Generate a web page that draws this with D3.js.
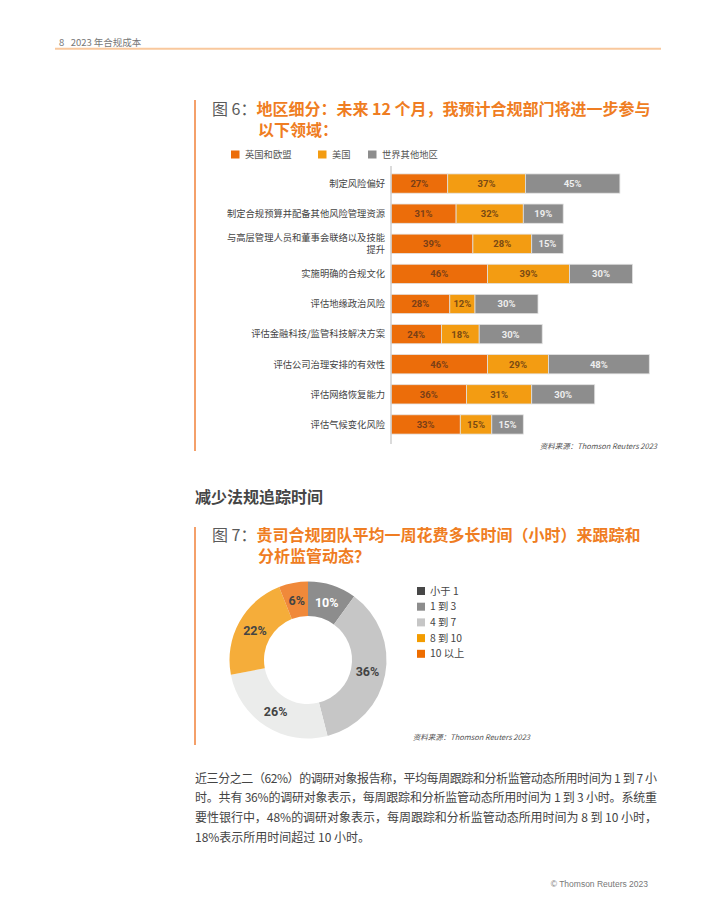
<!DOCTYPE html>
<html>
<head>
<meta charset="utf-8">
<script src="https://cdn.jsdelivr.net/npm/d3@7"></script>
<style>
  html, body { margin: 0; padding: 0; background: #fff; }
  svg { display: block; }
</style>
</head>
<body>
<svg id="page"></svg>
<script>
// figure 6 data
const categories = [
  '制定风险偏好',
  '制定合规预算并配备其他风险管理资源',
  '与高层管理人员和董事会联络以及技能\n提升',
  '实施明确的合规文化',
  '评估地缘政治风险',
  '评估金融科技/监管科技解决方案',
  '评估公司治理安排的有效性',
  '评估网络恢复能力',
  '评估气候变化风险'
]
const seriesNames = ['英国和欧盟', '美国', '世界其他地区']
const ukEu = [27, 31, 39, 46, 28, 24, 46, 36, 33]
const us = [37, 32, 28, 39, 12, 18, 29, 31, 15]
const rest = [45, 19, 15, 30, 30, 30, 48, 30, 15]

// figure 7 data
const hourBins = ['小于 1', '1 到 3', '4 到 7', '8 到 10', '10 以上']
const pieValues = [10, 36, 26, 22, 6]

const paragraph = [
  '近三分之二（62%）的调研对象报告称，平均每周跟踪和分析监管动态所用时间为 1 到 7 小',
  '时。共有 36%的调研对象表示，每周跟踪和分析监管动态所用时间为 1 到 3 小时。系统重',
  '要性银行中，48%的调研对象表示，每周跟踪和分析监管动态所用时间为 8 到 10 小时，',
  '18%表示所用时间超过 10 小时。'
]

const width = 710, height = 919
const cjk = '"Noto Sans CJK SC", "Noto Sans", sans-serif'
const num = 'Roboto, "Open Sans", sans-serif'
const orangeTitle = '#ef7d22'

const svg = d3.select('#page').attr('width', width).attr('height', height)
svg.append('rect').attr('width', width).attr('height', height).attr('fill', '#fff')

// page header
svg.append('text').attr('x', 59).attr('y', 46).style('white-space', 'pre')
  .style('font-family', cjk).style('font-size', '9.5px').attr('fill', '#777')
  .text('8   2023 年合规成本')
svg.append('line').attr('x1', 55).attr('x2', 661).attr('y1', 48.7).attr('y2', 48.7)
  .attr('stroke', '#f9c89d').attr('stroke-width', 2)

// ---------- figure 6 ----------
svg.append('line').attr('x1', 195).attr('x2', 195).attr('y1', 100).attr('y2', 451)
  .attr('stroke', '#f4a06a').attr('stroke-width', 2)

function title(y, lines, prefix) {
  const t = svg.append('text').attr('x', 212).attr('y', y)
    .style('font-family', cjk).style('font-size', '16px')
  t.append('tspan').attr('fill', '#5a5a5a').text(prefix)
  lines.forEach((l, i) => {
    const s = t.append('tspan').attr('fill', orangeTitle).style('font-weight', 700).text(l)
    if (i > 0) s.attr('x', 258).attr('dy', 21.5)
  })
}
title(114.5, ['地区细分：未来 12 个月，我预计合规部门将进一步参与', '以下领域：'], '图 6：')

const barColors = ['#ec6d0a', '#f39c12', '#8d8d8d']
const labelColors = ['#7a3f17', '#7a4a14', '#eeeeee']

// legend
const leg6 = svg.append('g').style('font-family', cjk).style('font-size', '9.3px')
const legX = [231, 318, 368]
seriesNames.forEach((s, i) => {
  leg6.append('rect').attr('x', legX[i]).attr('y', 150.5).attr('width', 8.5).attr('height', 8)
    .attr('fill', barColors[i])
  leg6.append('text').attr('x', legX[i] + 14).attr('y', 155).attr('dy', '0.35em')
    .attr('fill', '#555').text(s)
})

const x0 = 391
const x = d3.scaleLinear().domain([0, 100]).range([0, 210])
const y = d3.scaleBand().domain(d3.range(categories.length))
  .range([168.5, 439.5]).paddingInner(0.36).paddingOuter(0.18)

const rows = categories.map((c, i) => ({ c, vals: [ukEu[i], us[i], rest[i]] }))

const chart6 = svg.append('g')
rows.forEach((r, i) => {
  let acc = 0
  r.vals.forEach((v, k) => {
    const xs = x0 + x(acc)
    chart6.append('rect').attr('x', xs).attr('y', y(i))
      .attr('width', x(v)).attr('height', y.bandwidth())
      .attr('fill', barColors[k]).attr('stroke', '#e2e2e2').attr('stroke-width', 0.8)
    chart6.append('text').attr('x', xs + x(v) / 2).attr('y', y(i) + y.bandwidth() / 2)
      .attr('dy', '0.36em').attr('text-anchor', 'middle')
      .style('font-family', num).style('font-size', '9.5px').style('font-weight', 700)
      .attr('fill', labelColors[k]).text(v + '%')
    acc += v
  })
  const lines = r.c.split('\n')
  const cy = y(i) + y.bandwidth() / 2 - (lines.length - 1) * 6
  const lab = chart6.append('text').attr('x', 385).attr('y', cy)
    .attr('text-anchor', 'end').style('font-family', cjk).style('font-size', '9.3px')
    .attr('fill', '#444')
  lines.forEach((l, j) => {
    lab.append('tspan').attr('x', 385).attr('dy', j === 0 ? '0.36em' : 12).text(l)
  })
})
svg.append('line').attr('x1', x0).attr('x2', x0).attr('y1', 166).attr('y2', 444)
  .attr('stroke', '#cfcfcf').attr('stroke-width', 1.5)

svg.append('text').attr('x', 657).attr('y', 449).attr('text-anchor', 'end')
  .style('font-family', cjk).style('font-size', '7.5px').style('font-style', 'italic')
  .attr('fill', '#555').text('资料来源：Thomson Reuters 2023')

// ---------- section heading ----------
svg.append('text').attr('x', 195).attr('y', 502.5)
  .style('font-family', cjk).style('font-size', '16px').style('font-weight', 700)
  .attr('fill', '#454545').text('减少法规追踪时间')

// ---------- figure 7 ----------
svg.append('line').attr('x1', 195).attr('x2', 195).attr('y1', 527).attr('y2', 745)
  .attr('stroke', '#f4a06a').attr('stroke-width', 2)
title(540.5, ['贵司合规团队平均一周花费多长时间（小时）来跟踪和', '分析监管动态？'], '图 7：')

const sliceColors = ['#8d8d8d', '#c6c6c6', '#ebeceb', '#f5ad3a', '#f0893a']
const sliceText = ['#ffffff', '#444', '#444', '#444', '#444']
const legendColors = ['#474747', '#8d8d8d', '#c6c6c6', '#f39c00', '#ee6d00']

const cx = 308, cy = 660
const pie = d3.pie().sort(null).value(d => d)
const arc = d3.arc().innerRadius(44).outerRadius(78.5)
const labelArc = d3.arc().innerRadius(60.5).outerRadius(60.5)
const g7 = svg.append('g').attr('transform', 'translate(' + cx + ',' + cy + ')')
const arcs = pie(pieValues)
g7.selectAll('path').data(arcs).enter().append('path')
  .attr('d', arc).attr('fill', (d, i) => sliceColors[i])
g7.selectAll('text').data(arcs).enter().append('text')
  .attr('transform', d => 'translate(' + labelArc.centroid(d) + ')')
  .attr('dy', '0.36em').attr('text-anchor', 'middle')
  .style('font-family', num).style('font-size', '12.5px').style('font-weight', 700)
  .attr('fill', (d, i) => sliceText[i]).text(d => d.data + '%')

const leg7 = svg.append('g').style('font-family', cjk).style('font-size', '10.3px')
hourBins.forEach((h, i) => {
  const yy = 591 + i * 15.7
  leg7.append('rect').attr('x', 417).attr('y', yy - 4).attr('width', 8).attr('height', 8)
    .attr('fill', legendColors[i])
  leg7.append('text').attr('x', 430).attr('y', yy).attr('dy', '0.35em')
    .attr('fill', '#444').text(h)
})

svg.append('text').attr('x', 530).attr('y', 740).attr('text-anchor', 'end')
  .style('font-family', cjk).style('font-size', '7.5px').style('font-style', 'italic')
  .attr('fill', '#555').text('资料来源：Thomson Reuters 2023')

// ---------- body text ----------
paragraph.forEach((p, i) => {
  const t = svg.append('text').attr('x', 195).attr('y', 782.5 + i * 19.8)
    .style('font-family', cjk).style('font-size', '12px').attr('fill', '#444').text(p)
  if (i < paragraph.length - 1) t.attr('textLength', 462).attr('lengthAdjust', 'spacing')
})

// footer
svg.append('text').attr('x', 648).attr('y', 887).attr('text-anchor', 'end')
  .style('font-family', '"Liberation Sans", Arial, sans-serif').style('font-size', '8.5px')
  .attr('fill', '#777').text('© Thomson Reuters 2023')
</script>
</body>
</html>
